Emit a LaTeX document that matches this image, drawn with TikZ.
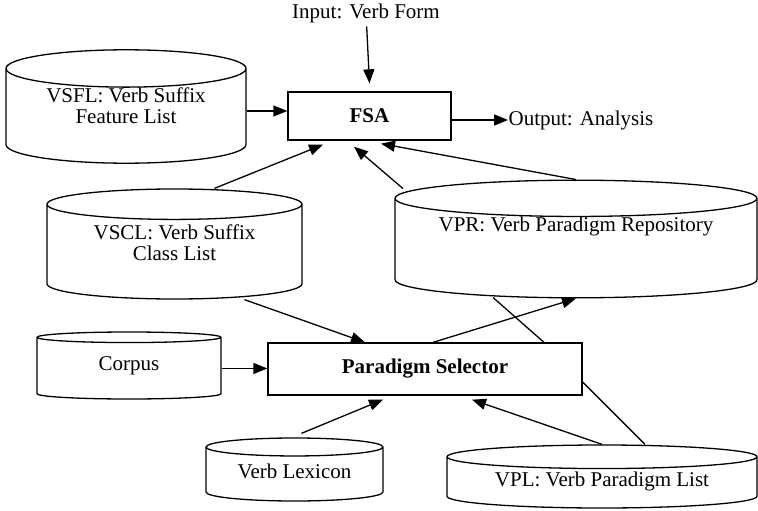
\documentclass[tikz,border=0pt]{standalone}
\usepackage{fontspec}
\setmainfont{Liberation Serif}
\usepackage{tikz}
\usetikzlibrary{shapes.geometric,arrows.meta}
\usetikzlibrary{positioning}

\begin{document}
\begin{tikzpicture}[x=1pt,y=-1pt,font=\fontsize{21}{21}\selectfont,
    line width=1.3pt,
    >={Triangle[length=14pt,width=11pt]},
    db/.style={cylinder,shape border rotate=90,draw,align=center,inner sep=0pt,anchor=shape center},
    proc/.style={rectangle,draw,font=\fontsize{21}{21}\selectfont\bfseries}]
        \useasboundingbox (0,0) rectangle (758,511);
        % processing boxes
        \node[proc,minimum width=163pt,minimum height=48pt] (fsa) at (369.5,116) {FSA};
        \node[proc,minimum width=314pt,minimum height=52pt] (ps) at (425,369) {Paradigm Selector};
        \node (input) at (366,13) {Input: Verb Form};
        \node[anchor=west,inner sep=0pt] (output) at (508,120) {Output: Analysis};
        % data stores
        \node[db,minimum width=240pt,minimum height=113pt,aspect=0.234,text depth=21pt] (vsfl) at (126,106.5) {VSFL: Verb Suffix\\Feature List};
        \node[db,minimum width=255pt,minimum height=110pt,aspect=0.188,text depth=18pt] (vscl) at (174.5,244) {VSCL: Verb Suffix\\Class List};
        \node[db,minimum width=362pt,minimum height=102pt,aspect=0.132,text depth=48pt] (vpr) at (576,239) {VPR: Verb Paradigm Repository};
        \node[db,minimum width=184pt,minimum height=67pt,aspect=0.174,text depth=9pt] (corpus) at (129,365.5) {Corpus};
        \node[db,minimum width=177pt,minimum height=63pt,aspect=0.158,text depth=7pt] (lex) at (294.5,469.5) {Verb Lexicon};
        \node[db,minimum width=310pt,minimum height=63pt,aspect=0.11,text depth=8pt] (vpl) at (602,476.5) {VPL: Verb Paradigm List};
        \coordinate (fsain) at ([yshift=5pt]fsa.west);
        % into the FSA
        \draw[->] (input) -- ([yshift=8pt]fsa.north);
        \draw[->] (fsain -| vsfl.east) -- (fsain);
        \draw[->] ([yshift=-4pt]fsa.east) -- (output.west);
        \draw[->] ([xshift=40pt]vscl.north) -- ([xshift=-46.5pt,yshift=-4pt]fsa.south);
        \draw[->] ([xshift=-173pt,yshift=-9pt]vpr.north) -- ([xshift=-15.5pt,yshift=-6pt]fsa.south);
        \draw[->] (vpr.north) -- ([xshift=11.5pt,yshift=-3pt]fsa.south);
        % into and out of the selector
        \draw[->] (corpus.east) -- (corpus.east -| ps.west);
        \draw[->] ([xshift=70pt]vscl.south) -- ([xshift=-60pt]ps.north);
        \draw[->] ([xshift=7pt,yshift=4pt]lex.north) -- ([xshift=-42pt,yshift=-4pt]ps.south);
        \draw[->] (vpl.north) -- ([xshift=47pt,yshift=-4pt]ps.south);
        \draw[->] ([xshift=8pt]ps.north) -- (vpr.south);
        \draw ([xshift=-83pt,yshift=1pt]vpr.south) -- ([xshift=119pt]ps.north);
        \draw ([yshift=-13pt]ps.east) -- ([xshift=43pt]vpl.north);
    \end{tikzpicture}
\end{document}
